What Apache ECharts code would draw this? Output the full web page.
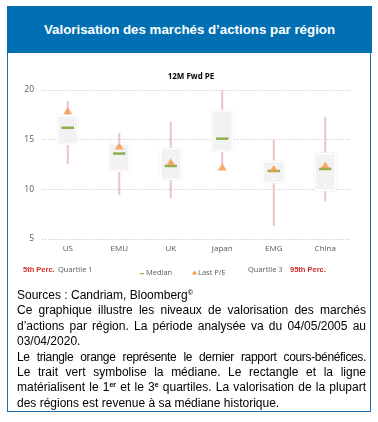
<!DOCTYPE html>
<html><head><meta charset="utf-8">
<script src="https://cdn.jsdelivr.net/npm/echarts@6/dist/echarts.min.js"></script>
<style>
html,body{margin:0;padding:0;background:#fff;width:378px;height:422px;overflow:hidden;}
#frame{position:absolute;left:7px;top:6px;width:362px;height:404px;border:1.5px solid #1F6FB2;}
#hdr{position:absolute;left:7px;top:6px;width:365px;height:47px;background:#0070B3;color:#fff;font-family:"Liberation Sans",Arial,sans-serif;font-weight:bold;font-size:13.3px;line-height:47px;text-align:center;}
#chart{position:absolute;left:0;top:0;width:378px;height:292px;}
#txt{position:absolute;left:17px;top:288px;width:349px;font-family:"Liberation Sans",Arial,sans-serif;font-size:12px;color:#000;}
#txt div{height:15.4px;line-height:15.4px;white-space:nowrap;}
#txt .j{text-align:justify;text-align-last:justify;}
sup{font-size:7px;font-weight:bold;vertical-align:top;line-height:10px;}
</style></head>
<body>
<div id="frame"></div>
<div id="hdr">Valorisation des marchés d’actions par région</div>
<div id="chart"></div>
<div id="txt">
<div>Sources : Candriam, Bloomberg<sup>©</sup></div>
<div class="j">Ce graphique illustre les niveaux de valorisation des marchés</div>
<div class="j">d’actions par région. La période analysée va du 04/05/2005 au</div>
<div>03/04/2020.</div>
<div class="j" style="letter-spacing:-0.35px">Le triangle orange représente le dernier rapport cours-bénéfices.</div>
<div class="j">Le trait vert symbolise la médiane. Le rectangle et la ligne</div>
<div class="j">matérialisent le 1<sup>er</sup> et le 3<sup>e</sup> quartiles. La valorisation de la plupart</div>
<div>des régions est revenue à sa médiane historique.</div>
</div>
<script>
const categories = ['US', 'EMU', 'UK', 'Japan', 'EMG', 'China'];
const p5 = [12.55, 9.4, 9.1, 12.4, 6.3, 8.8];
const q1 = [14.55, 11.85, 11.0, 13.85, 10.7, 9.9];
const median = [16.2, 13.6, 12.35, 15.1, 11.85, 12.05];
const q3 = [17.4, 14.6, 14.1, 17.9, 12.8, 13.6];
const p95 = [18.9, 15.7, 16.8, 20.0, 15.0, 17.3];
const lastPE = [17.9, 14.35, 12.75, 12.25, 12.1, 12.45];
const chartTitle = '12M Fwd PE';

const boxData = categories.map((c, i) => [i, p5[i], q1[i], median[i], q3[i], p95[i]]);
const FONT = '"Open Sans", "Liberation Sans", sans-serif';

const chart = echarts.init(document.getElementById('chart'), null, {renderer: 'canvas'});
chart.setOption({
  animation: false,
  title: {text: chartTitle, left: 186, top: 68, textAlign: 'center',
    textStyle: {fontFamily: FONT, fontSize: 8, fontWeight: 'bold', color: '#000'}},
  grid: {left: 42, right: 27, top: 90, bottom: 53},
  xAxis: {type: 'category', data: categories,
    axisLine: {show: false}, axisTick: {show: false},
    axisLabel: {fontFamily: FONT, fontSize: 8, color: '#595959', margin: 6}},
  yAxis: {type: 'value', min: 5, max: 20, interval: 5,
    axisLine: {show: false}, axisTick: {show: false},
    axisLabel: {fontFamily: FONT, fontSize: 8.5, color: '#595959', margin: 8},
    splitLine: {lineStyle: {color: '#D0D0D0', type: [1.5, 1.5], width: 1}}},
  series: [
    {type: 'custom', data: boxData, encode: {x: 0, y: [1, 2, 3, 4, 5]}, z: 2,
      renderItem: function (params, api) {
        const x = api.value(0);
        const pLo = api.coord([x, api.value(1)]);
        const pQ1 = api.coord([x, api.value(2)]);
        const pMed = api.coord([x, api.value(3)]);
        const pQ3 = api.coord([x, api.value(4)]);
        const pHi = api.coord([x, api.value(5)]);
        const band = api.size([1, 0])[0];
        const bw = band * 0.39;
        const mw = band * 0.24;
        return {type: 'group', children: [
          {type: 'line', shape: {x1: pLo[0], y1: pLo[1], x2: pHi[0], y2: pHi[1]},
            style: {stroke: '#EBC3C2', lineWidth: 2}},
          {type: 'rect', shape: {x: pQ3[0] - bw / 2 - 1, y: pQ3[1] - 1, width: bw + 2, height: pQ1[1] - pQ3[1] + 2},
            style: {fill: '#E6E6E6'}},
          {type: 'rect', shape: {x: pQ3[0] - bw / 2, y: pQ3[1], width: bw, height: pQ1[1] - pQ3[1]},
            style: {fill: '#F2F2F2', stroke: '#FFFFFF', lineWidth: 1.5}},
          {type: 'line', shape: {x1: pMed[0] - mw / 2, y1: pMed[1], x2: pMed[0] + mw / 2, y2: pMed[1]},
            style: {stroke: '#8DB04F', lineWidth: 2.5}}
        ]};
      }},
    {type: 'scatter', data: lastPE, symbol: 'triangle', symbolSize: [9, 7], z: 3,
      itemStyle: {color: '#F79646'}}
  ],
  graphic: [
    {type: 'text', left: 23, top: 266, style: {text: '5th Perc.', font: 'bold 7.5px "Liberation Sans", sans-serif', fill: '#D02A2A'}},
    {type: 'text', left: 58, top: 266, style: {text: 'Quartile 1', font: '7.5px ' + FONT, fill: '#5A5A5A'}},
    {type: 'rect', left: 140, top: 273, shape: {width: 4, height: 1.2}, style: {fill: '#8DB04F'}},
    {type: 'text', left: 146, top: 269, style: {text: 'Median', font: '7.5px ' + FONT, fill: '#5A5A5A'}},
    {type: 'polygon', shape: {points: [[194.5, 270.5], [192, 274.5], [197, 274.5]]}, style: {fill: '#F79646'}},
    {type: 'text', left: 198, top: 269, style: {text: 'Last P/E', font: '7.5px ' + FONT, fill: '#5A5A5A'}},
    {type: 'text', left: 248, top: 266, style: {text: 'Quartile 3', font: '7.5px ' + FONT, fill: '#5A5A5A'}},
    {type: 'text', left: 290, top: 266, style: {text: '95th Perc.', font: 'bold 7.5px "Liberation Sans", sans-serif', fill: '#D02A2A'}}
  ]
});
</script>
</body></html>
